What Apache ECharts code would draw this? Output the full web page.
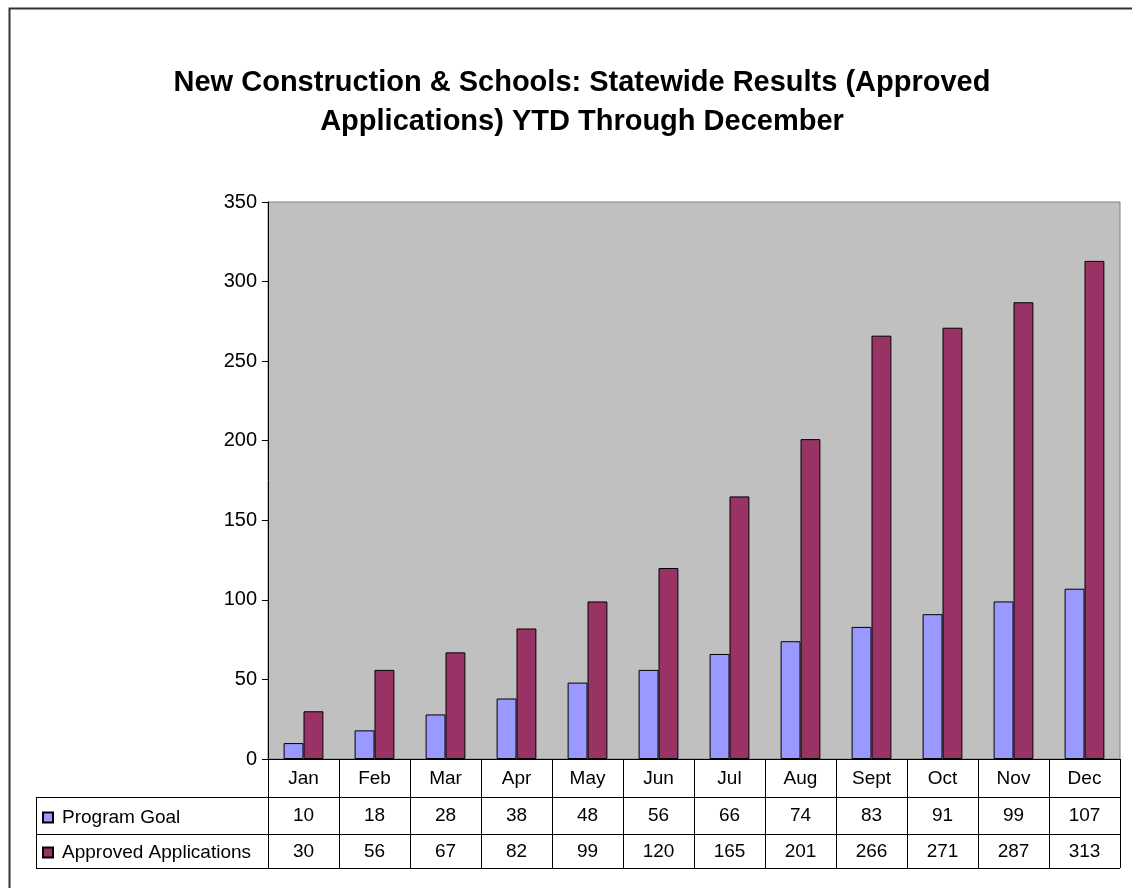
<!DOCTYPE html>
<html>
<head>
<meta charset="utf-8">
<script src="https://cdn.jsdelivr.net/npm/echarts@6/dist/echarts.min.js"></script>
<style>
  html, body { margin: 0; padding: 0; background: #fff; }
  #main { width: 1132px; height: 888px; }
</style>
</head>
<body>
<div id="main"></div>
<script>
// data
var months = ['Jan', 'Feb', 'Mar', 'Apr', 'May', 'Jun', 'Jul', 'Aug', 'Sept', 'Oct', 'Nov', 'Dec'];
var programGoal = [10, 18, 28, 38, 48, 56, 66, 74, 83, 91, 99, 107];
var approvedApps = [30, 56, 67, 82, 99, 120, 165, 201, 266, 271, 287, 313];
var seriesNames = ['Program Goal', 'Approved Applications'];
var yTicks = { min: 0, max: 350, interval: 50 };

var chart = echarts.init(document.getElementById('main'));

// layout of the plot / table
var gLeft = 268, gRight = 1120, gTop = 202, gBottom = 759;
var row1 = 797, row2 = 834, row3 = 868, tableLeft = 36;
var font = 'Arial, "Liberation Sans", sans-serif';
var fs = 19;

// one category axis per table row
function rowAxis(offset, tickLen, fmt) {
    return {
        type: 'category',
        data: months,
        position: 'bottom',
        offset: offset,
        axisLine: { show: true, lineStyle: { color: '#000', width: 1 } },
        axisTick: { show: true, length: tickLen, lineStyle: { color: '#000', width: 1 } },
        axisLabel: {
            color: '#000', fontSize: fs, fontFamily: font,
            margin: Math.round((tickLen - fs) / 2),
            formatter: fmt
        },
        splitLine: { show: false }
    };
}

function legendRow(name, top) {
    return {
        data: [name], left: 42, top: top, padding: 0, orient: 'vertical',
        icon: 'rect', itemWidth: 10, itemHeight: 10,
        textStyle: { fontFamily: font, fontSize: fs, color: '#000', padding: [0, 0, 0, 4] }
    };
}

var option = {
    animation: false,
    backgroundColor: '#fff',
    title: {
        text: 'New Construction & Schools: Statewide Results (Approved\nApplications) YTD Through December',
        left: 577,
        top: 58,
        textAlign: 'center',
        textStyle: {
            fontFamily: font, fontSize: 29, fontWeight: 'bold', color: '#000', lineHeight: 39
        }
    },
    legend: [
        legendRow(seriesNames[0], row1 + 11),
        legendRow(seriesNames[1], row2 + 9)
    ],
    grid: {
        left: gLeft, right: 1132 - gRight, top: gTop, bottom: 888 - gBottom,
        show: true, backgroundColor: '#c0c0c0', borderColor: '#808080', borderWidth: 1
    },
    xAxis: [
        rowAxis(0, row1 - gBottom, function (v) { return v; }),
        rowAxis(row1 - gBottom, row2 - row1, function (v, i) { return String(programGoal[i]); }),
        rowAxis(row2 - gBottom, row3 - row2, function (v, i) { return String(approvedApps[i]); })
    ],
    yAxis: {
        type: 'value',
        min: yTicks.min, max: yTicks.max, interval: yTicks.interval,
        axisLine: { show: true, lineStyle: { color: '#000', width: 1 } },
        axisTick: { show: true, length: 6, lineStyle: { color: '#000' } },
        axisLabel: { color: '#000', fontSize: 20, fontFamily: font, margin: 11 },
        splitLine: { show: false }
    },
    series: [
        {
            name: seriesNames[0], type: 'bar', data: programGoal,
            barGap: '0%', barCategoryGap: '44%',
            itemStyle: { color: '#9999ff', borderColor: '#000', borderWidth: 1 }
        },
        {
            name: seriesNames[1], type: 'bar', data: approvedApps,
            barGap: '0%', barCategoryGap: '44%',
            itemStyle: { color: '#993366', borderColor: '#000', borderWidth: 1 }
        }
    ],
    graphic: [
        // outer chart frame (left + top visible)
        { type: 'rect', shape: { x: 9.5, y: 8.5, width: 1140, height: 900 },
          style: { fill: null, stroke: '#333', lineWidth: 2 }, silent: true },
        // legend part of the data table
        { type: 'line', shape: { x1: tableLeft, y1: row1 + 0.5, x2: gLeft, y2: row1 + 0.5 },
          style: { stroke: '#000', lineWidth: 1 } },
        { type: 'line', shape: { x1: tableLeft, y1: row2 + 0.5, x2: gLeft, y2: row2 + 0.5 },
          style: { stroke: '#000', lineWidth: 1 } },
        { type: 'line', shape: { x1: tableLeft, y1: row3 + 0.5, x2: gRight, y2: row3 + 0.5 },
          style: { stroke: '#000', lineWidth: 1 } },
        { type: 'line', shape: { x1: tableLeft + 0.5, y1: row1, x2: tableLeft + 0.5, y2: row3 },
          style: { stroke: '#000', lineWidth: 1 } }
    ]
};

chart.setOption(option);
</script>
</body>
</html>
